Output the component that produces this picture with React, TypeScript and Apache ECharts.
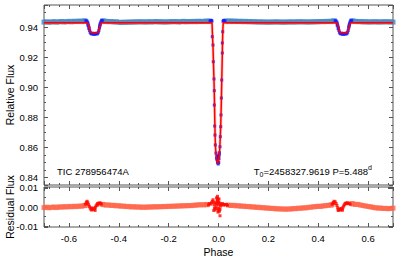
import React, { useEffect, useRef } from "react";
import * as echarts from "echarts";

// ---- Light curve: out-of-eclipse observations (phase, relative flux) ----
const lcBand: number[][] = [
  [-0.70, 0.9436], [-0.69, 0.9438], [-0.68, 0.9435], [-0.67, 0.9437], [-0.66, 0.9439], [-0.65, 0.9436],
  [-0.64, 0.9438], [-0.63, 0.9440], [-0.62, 0.9437], [-0.61, 0.9439], [-0.60, 0.9441], [-0.59, 0.9438],
  [-0.58, 0.9442], [-0.57, 0.9440], [-0.56, 0.9443], [-0.55, 0.9441], [-0.54, 0.9444], [-0.535, 0.9443],
  [-0.465, 0.9444], [-0.46, 0.9443], [-0.45, 0.9441], [-0.44, 0.9439], [-0.43, 0.9440], [-0.42, 0.9437],
  [-0.41, 0.9438], [-0.40, 0.9435], [-0.39, 0.9433], [-0.38, 0.9436], [-0.37, 0.9434], [-0.36, 0.9437],
  [-0.35, 0.9435], [-0.34, 0.9438], [-0.33, 0.9436], [-0.32, 0.9439], [-0.31, 0.9437], [-0.30, 0.9438],
  [-0.29, 0.9436], [-0.28, 0.9439], [-0.27, 0.9437], [-0.26, 0.9438], [-0.25, 0.9440], [-0.24, 0.9437],
  [-0.23, 0.9439], [-0.22, 0.9436], [-0.21, 0.9438], [-0.20, 0.9437], [-0.19, 0.9440], [-0.18, 0.9438],
  [-0.17, 0.9440], [-0.16, 0.9437], [-0.15, 0.9439], [-0.14, 0.9441], [-0.13, 0.9438], [-0.12, 0.9440],
  [-0.11, 0.9439], [-0.10, 0.9441], [-0.09, 0.9439], [-0.08, 0.9442], [-0.07, 0.9440], [-0.06, 0.9441],
  [-0.05, 0.9443], [-0.04, 0.9441], [-0.035, 0.9443],
  [0.03, 0.9444], [0.04, 0.9442], [0.05, 0.9444], [0.06, 0.9441], [0.07, 0.9443], [0.08, 0.9440],
  [0.09, 0.9442], [0.10, 0.9439], [0.11, 0.9441], [0.12, 0.9438], [0.13, 0.9440], [0.14, 0.9437],
  [0.15, 0.9439], [0.16, 0.9436], [0.17, 0.9438], [0.18, 0.9436], [0.19, 0.9437], [0.20, 0.9435],
  [0.21, 0.9437], [0.22, 0.9436], [0.23, 0.9438], [0.24, 0.9436], [0.25, 0.9437], [0.26, 0.9435],
  [0.27, 0.9437], [0.28, 0.9436], [0.29, 0.9438], [0.30, 0.9436], [0.31, 0.9438], [0.32, 0.9437],
  [0.33, 0.9439], [0.34, 0.9437], [0.35, 0.9438], [0.36, 0.9436], [0.37, 0.9438], [0.38, 0.9437],
  [0.39, 0.9439], [0.40, 0.9438], [0.41, 0.9440], [0.42, 0.9439], [0.43, 0.9441], [0.44, 0.9440],
  [0.45, 0.9442], [0.46, 0.9443], [0.465, 0.9444],
  [0.535, 0.9444], [0.54, 0.9443], [0.55, 0.9441], [0.56, 0.9439], [0.57, 0.9440], [0.58, 0.9437],
  [0.59, 0.9439], [0.60, 0.9436], [0.61, 0.9438], [0.62, 0.9437], [0.63, 0.9439], [0.64, 0.9436],
  [0.65, 0.9438], [0.66, 0.9437], [0.67, 0.9439], [0.68, 0.9437], [0.69, 0.9438], [0.70, 0.9436],
];

// ---- Light curve: in-eclipse observations ----
const lcEclipse: number[][] = [
  // secondary eclipse near -0.5
  [-0.532, 0.9446], [-0.528, 0.9443], [-0.525, 0.9436], [-0.524, 0.9415], [-0.523, 0.9425], [-0.521, 0.9410],
  [-0.520, 0.9392], [-0.519, 0.9398], [-0.517, 0.9380], [-0.515, 0.9368], [-0.512, 0.9360], [-0.509, 0.9357],
  [-0.506, 0.9362], [-0.503, 0.9355], [-0.500, 0.9359], [-0.497, 0.9354], [-0.494, 0.9360], [-0.491, 0.9356],
  [-0.488, 0.9362], [-0.485, 0.9358], [-0.482, 0.9368], [-0.480, 0.9380], [-0.478, 0.9396], [-0.477, 0.9405],
  [-0.476, 0.9412], [-0.475, 0.9420], [-0.474, 0.9428], [-0.472, 0.9438], [-0.469, 0.9445], [-0.466, 0.9447],
  // primary eclipse near 0
  [-0.034, 0.9444], [-0.031, 0.9447], [-0.028, 0.9446], [-0.026, 0.9443],
  [-0.025, 0.9339], [-0.0221, 0.9283], [-0.0209, 0.9172], [-0.0181, 0.9057], [-0.0169, 0.8979], [-0.0169, 0.8883],
  [-0.0153, 0.8743], [-0.0141, 0.8683], [-0.0129, 0.8617], [-0.0101, 0.8563],
  [-0.008, 0.8530], [-0.006, 0.8520], [-0.005, 0.8545], [-0.004, 0.8505], [-0.003, 0.8497], [-0.001, 0.8490],
  [0.000, 0.8540], [0.001, 0.8500], [0.002, 0.8525], [0.004, 0.8565],
  [0.0032, 0.8550], [0.006, 0.8605], [0.0072, 0.8672], [0.0089, 0.8739], [0.0101, 0.8817], [0.0113, 0.8930],
  [0.0129, 0.9050], [0.0153, 0.9230], [0.0153, 0.9297], [0.0169, 0.9372],
  [0.018, 0.9442], [0.020, 0.9447], [0.023, 0.9446], [0.026, 0.9444],
  // secondary eclipse near +0.5
  [0.468, 0.9446], [0.472, 0.9443], [0.475, 0.9436], [0.476, 0.9415], [0.477, 0.9425], [0.479, 0.9410],
  [0.480, 0.9392], [0.481, 0.9398], [0.483, 0.9380], [0.485, 0.9368], [0.488, 0.9360], [0.491, 0.9357],
  [0.494, 0.9362], [0.497, 0.9355], [0.500, 0.9359], [0.503, 0.9354], [0.506, 0.9360], [0.509, 0.9356],
  [0.512, 0.9362], [0.515, 0.9358], [0.518, 0.9368], [0.520, 0.9380], [0.522, 0.9396], [0.523, 0.9405],
  [0.524, 0.9412], [0.525, 0.9420], [0.526, 0.9428], [0.528, 0.9438], [0.531, 0.9445], [0.534, 0.9447],
];

// ---- Model light curve ----
const model: number[][] = [
  [-0.70, 0.9432], [-0.526, 0.9432], [-0.522, 0.9418], [-0.518, 0.9395], [-0.515, 0.9375], [-0.512, 0.9367],
  [-0.506, 0.9364], [-0.498, 0.9363], [-0.490, 0.9364], [-0.484, 0.9367], [-0.481, 0.9375], [-0.478, 0.9395],
  [-0.474, 0.9418], [-0.470, 0.9432],
  [-0.026, 0.9432], [-0.0245, 0.9360], [-0.022, 0.9270], [-0.020, 0.9150], [-0.018, 0.9040], [-0.0165, 0.8930],
  [-0.015, 0.8790], [-0.0135, 0.8670], [-0.012, 0.8600], [-0.010, 0.8555], [-0.007, 0.8515], [-0.004, 0.8497],
  [-0.002, 0.8493], [0.000, 0.8505], [0.003, 0.8545], [0.005, 0.8590], [0.007, 0.8665], [0.009, 0.8750],
  [0.011, 0.8880], [0.013, 0.9040], [0.015, 0.9200], [0.016, 0.9300], [0.0175, 0.9390], [0.019, 0.9432],
  [0.474, 0.9432], [0.478, 0.9418], [0.482, 0.9395], [0.485, 0.9375], [0.488, 0.9367], [0.494, 0.9364],
  [0.502, 0.9363], [0.510, 0.9364], [0.516, 0.9367], [0.519, 0.9375], [0.522, 0.9395], [0.526, 0.9418],
  [0.530, 0.9432], [0.70, 0.9432],
];

// ---- Residuals: out-of-eclipse ----
const resBand: number[][] = [
  [-0.70, -0.0003], [-0.69, -0.0001], [-0.68, -0.0004], [-0.67, -0.0002], [-0.66, 0.0000], [-0.65, -0.0003],
  [-0.64, 0.0001], [-0.63, -0.0001], [-0.62, 0.0002], [-0.61, 0.0000], [-0.60, 0.0003], [-0.59, 0.0001],
  [-0.58, 0.0004], [-0.57, 0.0002], [-0.56, 0.0005], [-0.55, 0.0004], [-0.54, 0.0007], [-0.535, 0.0008],
  [-0.465, 0.0014], [-0.46, 0.0012], [-0.45, 0.0010], [-0.44, 0.0011], [-0.43, 0.0008], [-0.42, 0.0009],
  [-0.41, 0.0006], [-0.40, 0.0007], [-0.39, 0.0004], [-0.38, 0.0005], [-0.37, 0.0002], [-0.36, 0.0003],
  [-0.35, 0.0000], [-0.34, 0.0002], [-0.33, -0.0001], [-0.32, 0.0001], [-0.31, -0.0002], [-0.30, 0.0000],
  [-0.29, -0.0002], [-0.28, 0.0001], [-0.27, -0.0001], [-0.26, 0.0002], [-0.25, 0.0000], [-0.24, 0.0002],
  [-0.23, 0.0001], [-0.22, 0.0003], [-0.21, 0.0002], [-0.20, 0.0004], [-0.19, 0.0003], [-0.18, 0.0005],
  [-0.17, 0.0004], [-0.16, 0.0006], [-0.15, 0.0005], [-0.14, 0.0007], [-0.13, 0.0006], [-0.12, 0.0008],
  [-0.11, 0.0007], [-0.10, 0.0009], [-0.09, 0.0010], [-0.08, 0.0011], [-0.07, 0.0012], [-0.06, 0.0011],
  [-0.05, 0.0013], [-0.045, 0.0012],
  [0.04, 0.0010], [0.05, 0.0008], [0.06, 0.0009], [0.07, 0.0006], [0.08, 0.0007], [0.09, 0.0004],
  [0.10, 0.0005], [0.11, 0.0002], [0.12, 0.0003], [0.13, 0.0000], [0.14, 0.0001], [0.15, -0.0002],
  [0.16, -0.0001], [0.17, -0.0004], [0.18, -0.0003], [0.19, -0.0006], [0.20, -0.0005], [0.21, -0.0008],
  [0.22, -0.0007], [0.23, -0.0010], [0.24, -0.0009], [0.25, -0.0011], [0.26, -0.0010], [0.27, -0.0012],
  [0.28, -0.0010], [0.29, -0.0011], [0.30, -0.0008], [0.31, -0.0009], [0.32, -0.0006], [0.33, -0.0007],
  [0.34, -0.0004], [0.35, -0.0005], [0.36, -0.0002], [0.37, -0.0001], [0.38, 0.0001], [0.39, 0.0002],
  [0.40, 0.0004], [0.41, 0.0003], [0.42, 0.0006], [0.43, 0.0007], [0.44, 0.0009], [0.45, 0.0010],
  [0.455, 0.0012],
  [0.535, 0.0018], [0.54, 0.0016], [0.55, 0.0013], [0.56, 0.0014], [0.57, 0.0010], [0.58, 0.0008],
  [0.59, 0.0005], [0.60, 0.0003], [0.61, 0.0001], [0.62, -0.0002], [0.63, -0.0004], [0.64, -0.0006],
  [0.65, -0.0005], [0.66, -0.0008], [0.67, -0.0007], [0.68, -0.0009], [0.69, -0.0008], [0.70, -0.0006],
];

// ---- Residuals: in-eclipse ----
const resEclipse: number[][] = [
  [-0.534, 0.0015], [-0.530, 0.0025], [-0.528, 0.0018], [-0.527, 0.0030], [-0.524, 0.0022], [-0.521, 0.0012],
  [-0.518, 0.0003], [-0.515, -0.0005], [-0.512, -0.0012], [-0.510, -0.0005], [-0.509, -0.0016], [-0.506, -0.0010],
  [-0.503, -0.0013], [-0.500, -0.0006], [-0.497, -0.0010], [-0.495, -0.0018], [-0.494, -0.0002], [-0.491, 0.0006],
  [-0.488, 0.0012], [-0.485, 0.0018], [-0.484, 0.0010], [-0.482, 0.0020], [-0.479, 0.0017], [-0.476, 0.0022],
  [-0.473, 0.0019], [-0.470, 0.0015],
  [-0.040, 0.0012], [-0.036, 0.0018], [-0.032, 0.0015], [-0.028, 0.0022], [-0.025, 0.0030], [-0.022, 0.0038],
  [-0.020, 0.0025], [-0.019, -0.0018], [-0.018, 0.0012], [-0.016, -0.0005], [-0.014, -0.0015], [-0.013, 0.0022],
  [-0.012, -0.0008], [-0.010, 0.0005], [-0.008, 0.0048], [-0.008, 0.0018], [-0.006, 0.0030], [-0.004, 0.0056],
  [-0.004, 0.0040], [-0.003, 0.0045], [-0.003, 0.0020], [-0.002, 0.0035], [-0.002, -0.0008], [-0.002, -0.0027],
  [-0.001, -0.0020], [0.000, 0.0010], [0.001, 0.0025], [0.002, 0.0042], [0.002, -0.0010], [0.004, -0.0022],
  [0.005, 0.0020], [0.006, -0.0046], [0.006, -0.0012], [0.008, 0.0005], [0.010, 0.0015], [0.013, 0.0012],
  [0.016, 0.0018], [0.020, 0.0010], [0.024, 0.0014], [0.028, 0.0011], [0.032, 0.0013], [0.036, 0.0009],
  [0.456, 0.0015], [0.460, 0.0024], [0.462, 0.0018], [0.464, 0.0030], [0.468, 0.0027], [0.472, 0.0018],
  [0.475, 0.0008], [0.478, -0.0004], [0.480, -0.0018], [0.481, -0.0012], [0.484, -0.0016], [0.487, -0.0010],
  [0.490, -0.0015], [0.493, -0.0008], [0.496, -0.0012], [0.497, -0.0017], [0.499, -0.0003], [0.502, 0.0005],
  [0.505, 0.0012], [0.508, 0.0018], [0.511, 0.0021], [0.514, 0.0017], [0.517, 0.0022], [0.520, 0.0020],
  [0.524, 0.0018], [0.528, 0.0015],
];

const targetName = "TIC 278956474A";
const epochText = "{a|T}{s|0}{a|=2458327.9619 P=5.488}{p|d}";
const topYName = "Relative Flux";
const bottomYName = "Residual Flux";

const FONT = '"Liberation Sans", Arial, Helvetica, sans-serif';
const FRAME = "#555555";

function multipleOf(v: number, step: number) {
  const r = v / step;
  return Math.abs(r - Math.round(r)) < 1e-6;
}
function fmt(step: number, digits: number) {
  return (v: number) => {
    if (!multipleOf(v, step)) return "";
    const n = Math.round(v / step) * step;
    const s = n.toFixed(digits);
    return /^-0\.0*$/.test(s) ? s.slice(1) : s;
  };
}

function xAx(grid: number, position: string, labels: boolean, name?: string) {
  return {
    type: "value",
    gridIndex: grid,
    position,
    min: -0.7,
    max: 0.7,
    splitNumber: 7,
    name: name || "",
    nameLocation: "middle",
    nameGap: 19,
    nameTextStyle: { fontFamily: FONT, fontSize: 10.5, color: "#000" },
    axisLine: { show: false, onZero: false },
    splitLine: { show: false },
    axisTick: { show: true, inside: true, length: 4, lineStyle: { color: FRAME } },
    minorTick: { show: true, splitNumber: 5, length: 2, lineStyle: { color: FRAME } },
    axisLabel: {
      show: labels,
      margin: 6,
      fontFamily: FONT,
      fontSize: 9.5,
      color: "#000",
      formatter: fmt(0.2, 1),
    },
  };
}

function yAx(grid: number, position: string, labels: boolean, min: number, max: number, split: number, step: number, minorSplit: number) {
  return {
    type: "value",
    gridIndex: grid,
    position,
    min,
    max,
    splitNumber: split,
    axisLine: { show: false, onZero: false },
    splitLine: { show: false },
    axisTick: { show: true, inside: true, length: 4, lineStyle: { color: FRAME } },
    minorTick: { show: true, splitNumber: minorSplit, length: 2, lineStyle: { color: FRAME } },
    axisLabel: {
      show: labels,
      margin: 6,
      fontFamily: FONT,
      fontSize: 9.5,
      color: "#000",
      formatter: fmt(step, 2),
    },
  };
}

export default function App() {
  const ref = useRef<HTMLDivElement>(null);
  useEffect(() => {
    if (!ref.current) return;
    const chart = echarts.init(ref.current, undefined, { renderer: "svg" });
    const option: any = {
      animation: false,
      backgroundColor: "#ffffff",
      grid: [
        { left: 44, top: 5, width: 349, height: 180, show: true, borderColor: FRAME, borderWidth: 1, backgroundColor: "transparent", containLabel: false, outerBoundsMode: "none" },
        { left: 44, top: 187, width: 349, height: 40, show: true, borderColor: FRAME, borderWidth: 1, backgroundColor: "transparent", containLabel: false, outerBoundsMode: "none" },
      ],
      xAxis: [
        xAx(0, "bottom", false),
        xAx(0, "top", false),
        xAx(1, "bottom", true, "Phase"),
        xAx(1, "top", false),
      ],
      yAxis: [
        yAx(0, "left", true, 0.835, 0.955, 6, 0.02, 4),
        yAx(0, "right", false, 0.835, 0.955, 6, 0.02, 4),
        yAx(1, "left", true, -0.0105, 0.0105, 2, 0.01, 2),
        yAx(1, "right", false, -0.0105, 0.0105, 2, 0.01, 2),
      ],
      series: [
        {
          type: "scatter", xAxisIndex: 0, yAxisIndex: 0, data: lcBand,
          symbol: "rect", symbolSize: 5, itemStyle: { color: "#3f86c6" }, z: 1, silent: true,
        },
        {
          type: "line", xAxisIndex: 0, yAxisIndex: 0, data: model, symbol: "none",
          lineStyle: { width: 3, color: "rgba(255,90,90,0.35)" }, z: 2, silent: true,
        },
        {
          type: "scatter", xAxisIndex: 0, yAxisIndex: 0, data: lcEclipse,
          symbol: "rect", symbolSize: 3, itemStyle: { color: "#1a1aff" }, z: 3, silent: true,
        },
        {
          type: "line", xAxisIndex: 0, yAxisIndex: 0, data: model, symbol: "none",
          lineStyle: { width: 1.5, color: "#ff0000" }, z: 4, silent: true,
        },
        {
          type: "scatter", xAxisIndex: 2, yAxisIndex: 2, data: resBand,
          symbol: "rect", symbolSize: 5, itemStyle: { color: "#ff6347" }, z: 1, silent: true,
        },
        {
          type: "scatter", xAxisIndex: 2, yAxisIndex: 2, data: resEclipse,
          symbol: "rect", symbolSize: 3, itemStyle: { color: "#ff0a00" }, z: 2, silent: true,
        },
      ],
      graphic: [
        {
          type: "text", x: 10, y: 95, rotation: Math.PI / 2, z: 10,
          style: { text: topYName, fontFamily: FONT, fontSize: 10.5, fill: "#000", align: "center", verticalAlign: "middle" },
        },
        {
          type: "text", x: 10, y: 207, rotation: Math.PI / 2, z: 10,
          style: { text: bottomYName, fontFamily: FONT, fontSize: 10.5, fill: "#000", align: "center", verticalAlign: "middle" },
        },
        {
          type: "text", left: 57, top: 166, z: 10,
          style: { text: targetName, fontFamily: FONT, fontSize: 9.5, fill: "#000" },
        },
        {
          type: "text", right: 35, top: 164, z: 10,
          style: {
            text: epochText,
            fontFamily: FONT,
            fill: "#000",
            rich: {
              a: { fontFamily: FONT, fontSize: 9.5, lineHeight: 14, verticalAlign: "middle", fill: "#000" },
              s: { fontFamily: FONT, fontSize: 7, lineHeight: 7, verticalAlign: "bottom", fill: "#000" },
              p: { fontFamily: FONT, fontSize: 7, lineHeight: 7, verticalAlign: "top", fill: "#000" },
            },
          },
        },
      ],
    };
    chart.setOption(option);
    return () => chart.dispose();
  }, []);
  return (
    <div
      ref={ref}
      style={{ position: "fixed", left: 0, top: 0, width: 407, height: 259, background: "#fff" }}
    />
  );
}
